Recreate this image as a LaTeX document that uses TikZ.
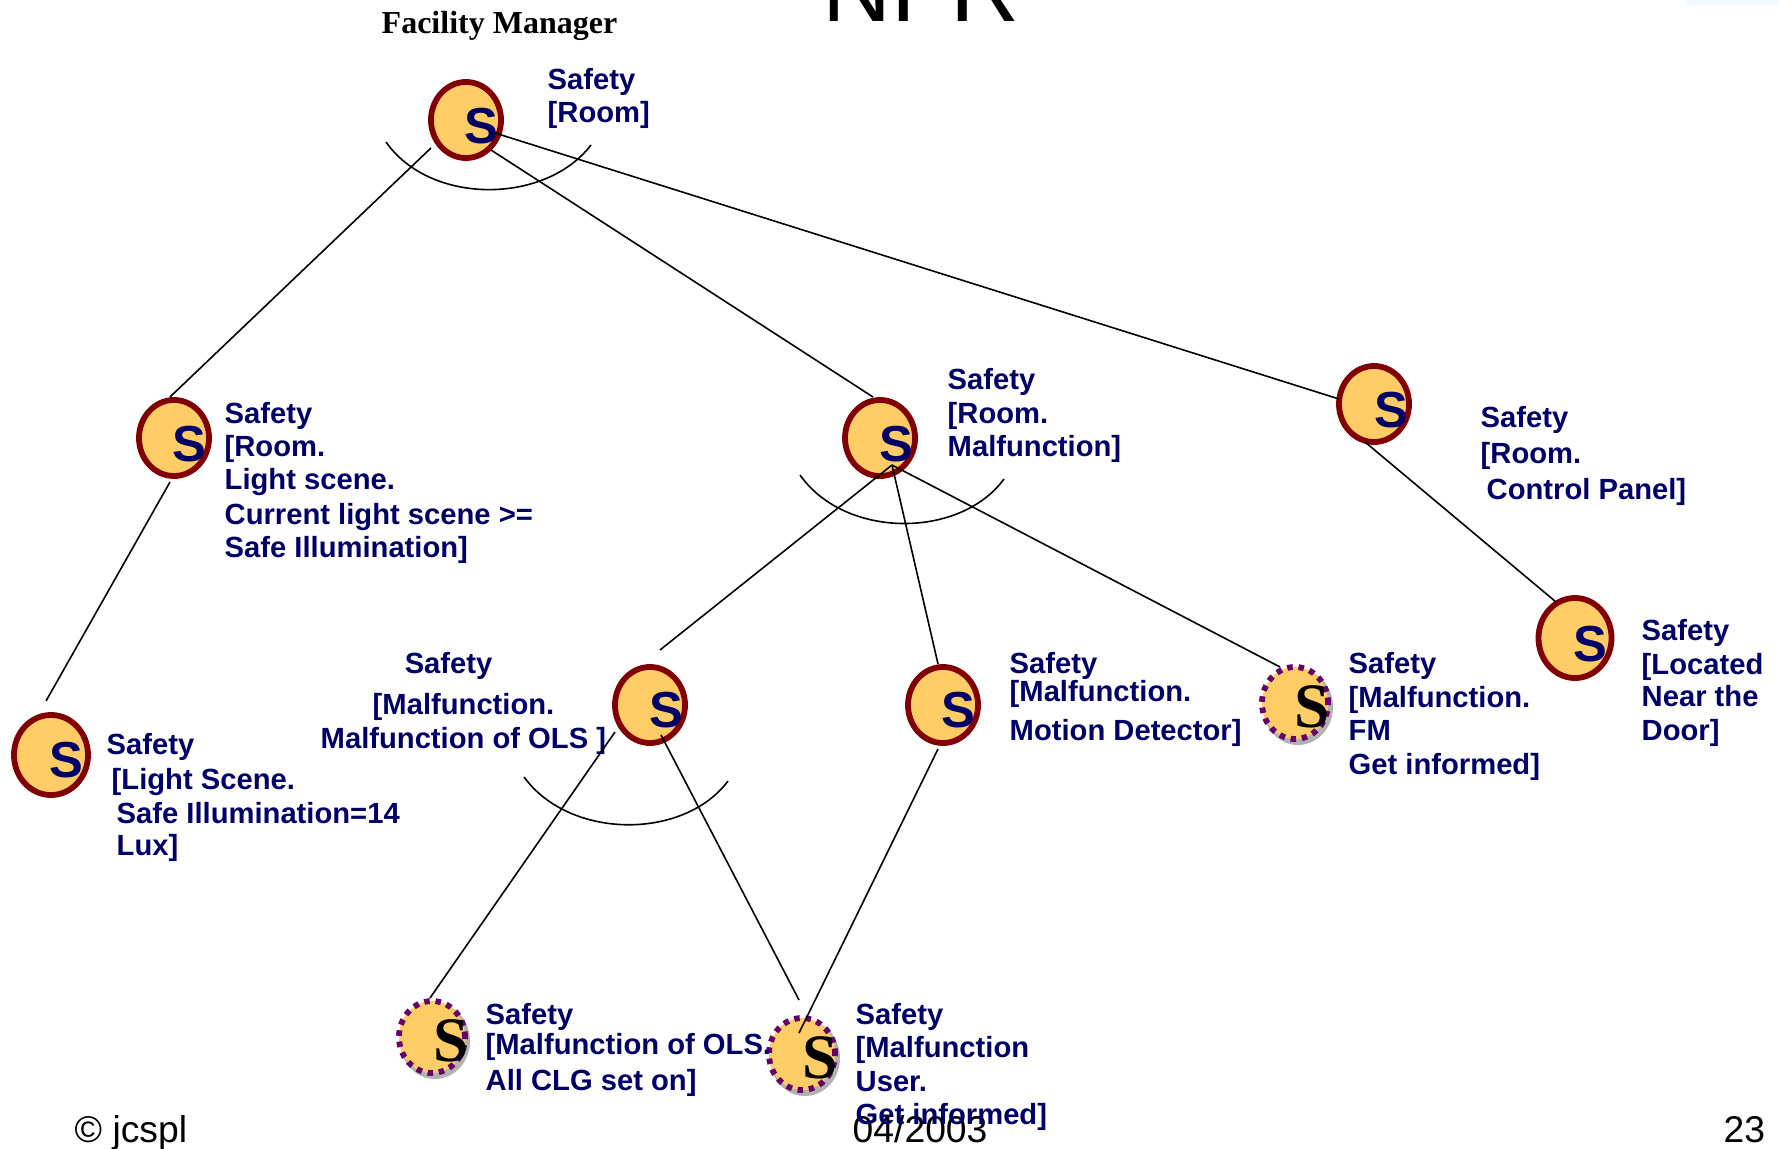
\documentclass[tikz,border=0pt]{standalone}
\usepackage{fontspec}
\setmainfont{Liberation Sans}
\newfontfamily\timesfont{Liberation Serif}
\usetikzlibrary{shapes.geometric}
\definecolor{goalnavy}{HTML}{000066}
\definecolor{goalred}{HTML}{800000}
\definecolor{goalfill}{HTML}{FFCC66}
\definecolor{goalpurple}{HTML}{660066}
\definecolor{goalshadow}{HTML}{B2B2B2}
\definecolor{cornerblue}{HTML}{F5FAFF}
\tikzset{
	softgoal/.style={ellipse,draw=goalred,fill=goalfill,line width=.058cm,minimum width=.70cm,minimum height=.76cm,inner sep=0pt},
	claimgoal/.style={ellipse,draw=goalpurple,fill=goalfill,line width=.058cm,dash pattern=on .055cm off .058cm,minimum width=.66cm,minimum height=.72cm,inner sep=0pt},
	claimshadow/.style={ellipse,fill=goalshadow,minimum width=.70cm,minimum height=.76cm,inner sep=0pt},
	sletter/.style={text=goalnavy,font=\fontsize{14.4}{15}\selectfont\bfseries,inner sep=0pt},
	tletter/.style={text=black,font=\fontsize{18}{19}\selectfont\timesfont\bfseries,inner sep=0pt},
	goallabel/.style={text=goalnavy,anchor=north west,align=left,inner sep=0pt,font=\fontsize{8.3}{9.4}\selectfont\bfseries},
	footer/.style={anchor=base west,inner sep=0pt,font=\fontsize{10.6}{12}\selectfont},
	link/.style={line width=.016cm},
}
\begin{document}
\begin{tikzpicture}[x=.01cm,y=-.01cm]
	\useasboundingbox (0,0) rectangle (1779,1149);
	\fill[cornerblue] (1686,0) rectangle (1779,6);
	% headings
	\node[anchor=base west,inner sep=0pt,font=\fontsize{27.2}{28}\selectfont] (title) at (822,22) {NFR};
	\node[anchor=base west,inner sep=0pt,font=\fontsize{9.1}{11}\selectfont\timesfont\bfseries] (manager) at (381,34) {Facility Manager};
	% footer
	\node[footer] (copyright) at (74,1142) {© jcspl};
	\node[footer] (date) at (852,1142) {04/2003};
	\node[footer] (page) at (1723,1142) {23};
	% goals
	\node[softgoal] (room) at (466,120) {};
	\node[sletter] (roomS) at (481,126) {S};
	\node[softgoal] (scene) at (174,438) {};
	\node[sletter] (sceneS) at (189,444) {S};
	\node[softgoal] (malf) at (880,438) {};
	\node[sletter] (malfS) at (896,444) {S};
	\node[softgoal] (panel) at (1374,404) {};
	\node[sletter] (panelS) at (1391,410) {S};
	\node[softgoal,minimum width=.74cm,minimum height=.80cm] (lux) at (51,755) {};
	\node[sletter] (luxS) at (66,760) {S};
	\node[softgoal] (ols) at (650,705) {};
	\node[sletter] (olsS) at (666,710) {S};
	\node[softgoal] (motion) at (943,705) {};
	\node[sletter] (motionS) at (958,710) {S};
	\node[softgoal,minimum width=.73cm,minimum height=.80cm] (door) at (1575,638) {};
	\node[sletter] (doorS) at (1590,644) {S};
	% claims
	\node[claimshadow] (fmshadow) at (1298,707) {};
	\node[claimgoal] (fm) at (1295,703) {};
	\node[tletter] (fmS) at (1312,707) {S};
	\node[claimshadow] (clgshadow) at (435,1041) {};
	\node[claimgoal] (clg) at (432,1037) {};
	\node[tletter] (clgS) at (451,1041) {S};
	\node[claimshadow] (usershadow) at (805,1058) {};
	\node[claimgoal] (user) at (802,1054) {};
	\node[tletter] (userS) at (820,1058) {S};
	% labels
	\node[goallabel] (roomtext) at (547,68) {Safety\\{[Room]}};
	\node[goallabel] (scenetext) at (224,402) {Safety\\{[Room.}\\Light scene.\\[.01cm]Current light scene >=\\Safe Illumination]};
	\node[goallabel] (malftext) at (947,368) {Safety\\[.01cm]{[Room.}\\Malfunction]};
	\node[goallabel] (paneltext) at (1480,406) {Safety\\[.03cm]{[Room.}\\[.03cm]\hspace*{.06cm}Control Panel]};
	\node[goallabel] (luxtext) at (106,733) {Safety\\[.02cm]\hspace*{.05cm}{[Light Scene.}\\[.01cm]\hspace*{.10cm}Safe Illumination=14\\[-.02cm]\hspace*{.10cm}Lux]};
	\node[goallabel] (olstext) at (320,652) {\hspace*{.84cm}Safety\\[.08cm]\hspace*{.52cm}{[Malfunction.}\\[.01cm]Malfunction of OLS ]};
	\node[goallabel] (motiontext) at (1009,652) {Safety\\[-.05cm]{[Malfunction.}\\[.06cm]Motion Detector]};
	\node[goallabel] (fmtext) at (1348,652) {Safety\\[.01cm]{[Malfunction.}\\FM\\Get informed]};
	\node[goallabel] (doortext) at (1641,619) {Safety\\[.01cm]{[Located}\\[-.01cm]Near the\\Door]};
	\node[goallabel] (clgtext) at (485,1003) {Safety\\[-.03cm]{[Malfunction of OLS.}\\[.03cm]All CLG set on]};
	\node[goallabel] (usertext) at (855,1003) {Safety\\{[Malfunction}\\[.01cm]User.\\[-.01cm]Get informed]};
	% links
	\draw[link] ([shift={(-35,28)}]room.center) -- ([shift={(-4,-41)}]scene.center);
	\draw[link] ([shift={(25,30)}]room.center) -- ([shift={(-7,-41)}]malf.center);
	\draw[link] ([shift={(29,13)}]room.center) -- ([shift={(-35,-5)}]panel.center);
	\draw[link] ([shift={(-4,44)}]scene.center) -- ([shift={(-5,-54)}]lux.center);
	\draw[link] ([shift={(12,27)}]malf.center) -- ([shift={(10,-55)}]ols.center);
	\draw[link] ([shift={(12,27)}]malf.center) -- ([shift={(-5,-41)}]motion.center);
	\draw[link] ([shift={(12,27)}]malf.center) -- ([shift={(-15,-36)}]fm.center);
	\draw[link] ([shift={(-9,38)}]panel.center) -- ([shift={(-19,-36)}]door.center);
	\draw[link] ([shift={(-35,27)}]ols.center) -- ([shift={(-2,-39)}]clg.center);
	\draw[link] ([shift={(11,30)}]ols.center) -- ([shift={(-3,-54)}]user.center);
	\draw[link] ([shift={(-5,44)}]motion.center) -- ([shift={(-3,-21)}]user.center);
	% arcs
	\draw[link] (386,142) .. controls (430,205) and (545,205) .. (591,145);
	\draw[link] (800,475) .. controls (845,539) and (960,539) .. (1004,479);
	\draw[link] (524,777) .. controls (570,840) and (684,840) .. (728,781);
\end{tikzpicture}
\end{document}
